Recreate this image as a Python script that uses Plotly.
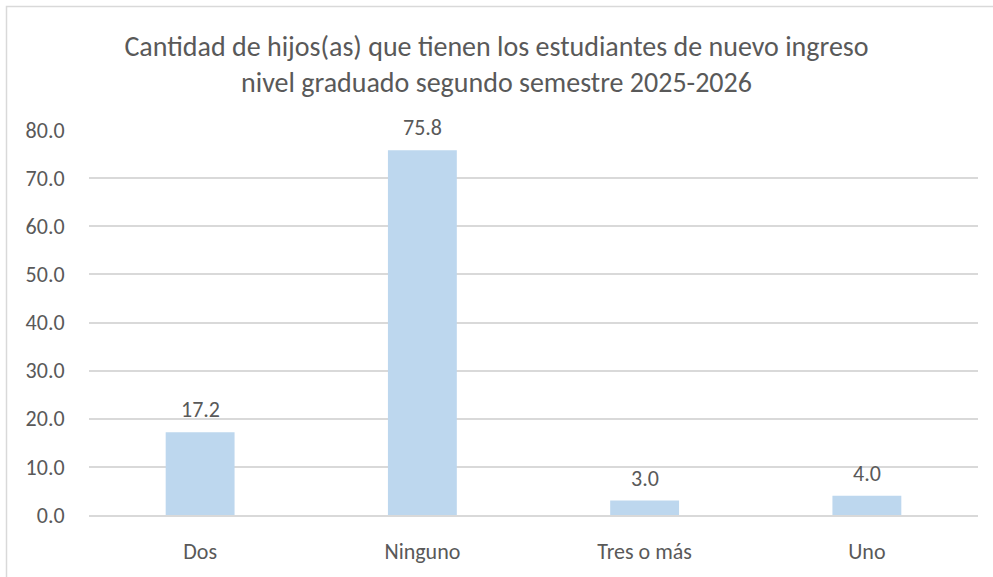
import plotly.graph_objects as go

categories = ["Dos", "Ninguno", "Tres o más", "Uno"]
values = [17.2, 75.8, 3.0, 4.0]
title_lines = ["Cantidad de hijos(as) que tienen los estudiantes de nuevo ingreso",
               "nivel graduado segundo semestre 2025-2026"]

FONT = "Carlito, Calibri, Lato, sans-serif"
GRAY = "#595959"

fig = go.Figure(go.Bar(
    x=categories, y=values,
    marker=dict(color="#BDD7EE", line=dict(width=0)),
    width=0.31,
    hoverinfo="x+y",
))

for c, v in zip(categories, values):
    fig.add_annotation(x=c, y=v, text=f"{v:.1f}", showarrow=False,
                       yanchor="bottom", yshift=7,
                       font=dict(family=FONT, size=22, color=GRAY))

fig.update_layout(
    width=993, height=577,
    margin=dict(l=89, r=15, t=130, b=59),
    paper_bgcolor="white", plot_bgcolor="white",
    title=dict(text="<br>".join(title_lines), x=0.5, xref="container", xanchor="center",
               y=1 - 56 / 577, yref="container", yanchor="middle",
               font=dict(family=FONT, size=28, color=GRAY)),
    font=dict(family=FONT, color=GRAY),
    showlegend=False,
    bargap=0.69,
    xaxis=dict(showgrid=False, showline=True, linecolor="#D9D9D9", linewidth=1.5,
               ticks="outside", ticklen=16, tickcolor="rgba(0,0,0,0)",
               tickfont=dict(family=FONT, size=22, color=GRAY)),
    yaxis=dict(range=[0, 80], dtick=10, tickformat=".1f", showgrid=True,
               gridcolor="#D9D9D9", gridwidth=1.5, zeroline=False, showline=False,
               ticks="outside", ticklen=19, tickcolor="rgba(0,0,0,0)",
               tickfont=dict(family=FONT, size=22, color=GRAY)),
    shapes=[dict(type="rect", xref="paper", yref="paper",
                 x0=(6.5 - 89) / 889, x1=(1010 - 89) / 889,
                 y0=(518 - 600) / 388, y1=(518 - 5.5) / 388,
                 line=dict(color="#D9D9D9", width=1.5), fillcolor="rgba(0,0,0,0)",
                 layer="below")],
)

fig.write_html("out.html", config={"displayModeBar": False},
               post_script="document.body.style.margin='0';document.body.style.overflow='hidden';")
